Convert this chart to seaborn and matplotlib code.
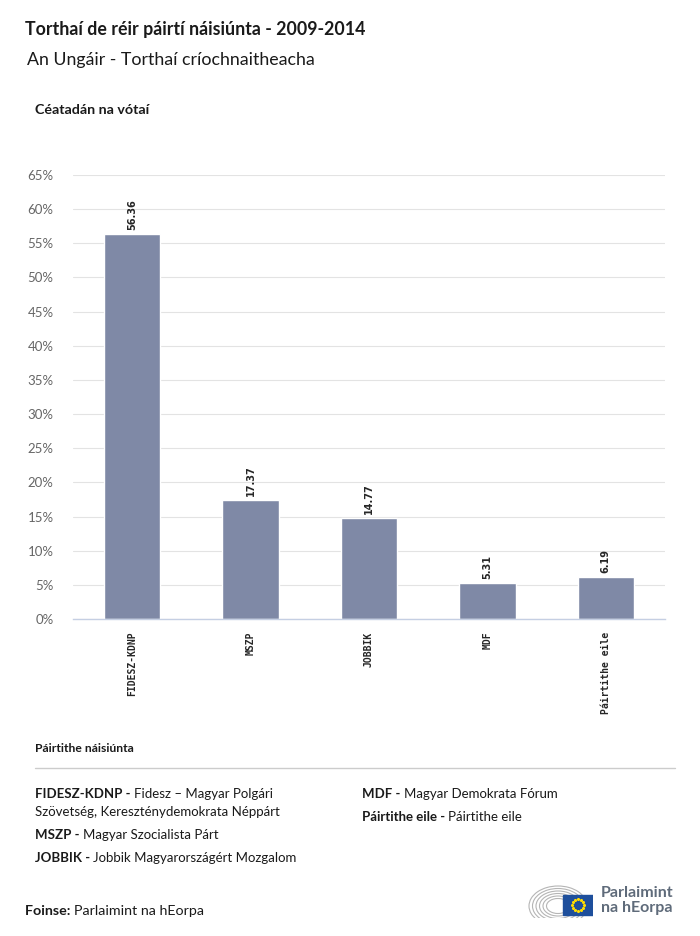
import matplotlib
matplotlib.use('Agg')
import matplotlib.pyplot as plt
import seaborn as sns
import pandas as pd
import numpy as np
from matplotlib.patches import Rectangle, Arc

# Data
parties = ['FIDESZ-KDNP', 'MSZP', 'JOBBIK', 'MDF', 'Páirtithe eile']
shares = [56.36, 17.37, 14.77, 5.31, 6.19]
y_ticks = [0, 5, 10, 15, 20, 25, 30, 35, 40, 45, 50, 55, 60, 65]

legend_left = [
    ('FIDESZ-KDNP - ', 'Fidesz – Magyar Polgári'),
    ('', 'Szövetség, Kereszténydemokrata Néppárt'),
    ('MSZP - ', 'Magyar Szocialista Párt'),
    ('JOBBIK - ', 'Jobbik Magyarországért Mozgalom'),
]
legend_right = [
    ('MDF - ', 'Magyar Demokrata Fórum'),
    ('Páirtithe eile - ', 'Páirtithe eile'),
]

sns.set_style('white')
plt.rcParams['font.family'] = ['Lato', 'DejaVu Sans']

W, H = 700, 936
fig = plt.figure(figsize=(W / 100, H / 100), dpi=100)

def fy(px):
    return 1 - px / H

def fx(px):
    return px / W

ax = fig.add_axes([fx(73), fy(619), fx(665) - fx(73), fy(175) - fy(619)])

df = pd.DataFrame({'party': parties, 'share': shares})
sns.barplot(data=df, x='party', y='share', color='#7f89a6', saturation=1,
            width=0.475, ax=ax)

ax.set_xlim(-0.5, 4.5)
ax.set_ylim(0, 65)
ax.set_yticks(y_ticks)
ax.set_yticklabels([f'{t}%' for t in y_ticks], color='#666666', fontsize=9.5)
ax.tick_params(axis='y', length=0, pad=14)
ax.tick_params(axis='x', length=0, pad=9)
ax.set_xticks(range(len(parties)))
ax.set_xticklabels(parties, rotation=90, family='DejaVu Sans Mono',
                   fontsize=7, fontweight='bold', va='top')
ax.set_xlabel('')
ax.set_ylabel('')
ax.grid(axis='y', color='#e3e3e3', linewidth=0.8)
ax.set_axisbelow(True)
for s in ['top', 'right', 'left']:
    ax.spines[s].set_visible(False)
ax.spines['bottom'].set_color('#c5cfe3')
ax.spines['bottom'].set_linewidth(1)

for i, v in enumerate(shares):
    ax.annotate(f'{v:.2f}', (i, v), xytext=(0, 3), textcoords='offset points',
                rotation=90, ha='center', va='bottom', fontsize=7,
                fontweight='bold', family='DejaVu Sans')

# Titles
fig.text(fx(25), fy(30), 'Torthaí de réir páirtí náisiúnta - 2009-2014',
         fontsize=12.8, fontweight='bold', va='center', color='#1a1a1a')
fig.text(fx(27), fy(60), 'An Ungáir - Torthaí críochnaitheacha',
         fontsize=12.8, va='center', color='#1a1a1a')
fig.text(fx(35), fy(110), 'Céatadán na vótaí', fontsize=10.3,
         fontweight='bold', va='center', color='#1a1a1a')

# Legend block
fig.text(fx(35), fy(748), 'Páirtithe náisiúnta', fontsize=8.7,
         fontweight='bold', va='center', color='#1a1a1a')
fig.add_artist(plt.Line2D([fx(35), fx(675)], [fy(768), fy(768)],
                          color='#cccccc', linewidth=1))

renderer = fig.canvas.get_renderer()

def mixed(x, y, bold, normal, size=9.5):
    t = fig.text(fx(x), fy(y), bold, fontsize=size, fontweight='bold',
                 va='center', color='#1a1a1a')
    w = t.get_window_extent(renderer).width if bold else 0
    fig.text(fx(x + w), fy(y), normal, fontsize=size, va='center',
             color='#1a1a1a')

for (b, n), y in zip(legend_left, [794, 812, 835, 858]):
    mixed(35, y, b, n)
for (b, n), y in zip(legend_right, [794, 817]):
    mixed(362, y, b, n)

mixed(25, 911, 'Foinse: ', 'Parlaimint na hEorpa', size=10.3)

# Logo
lax = fig.add_axes([fx(528), fy(918), fx(65), fy(876) - fy(918)])
lax.set_xlim(0, 65)
lax.set_ylim(0, 42)
lax.axis('off')
for r in range(6):
    lax.add_patch(Arc((30, 12), 58 - r * 7, 40 - r * 5, theta1=0, theta2=360,
                      color='#b5b5b5', linewidth=0.8))
lax.add_patch(Rectangle((35, 3), 30, 20, color='#1e4f9c'))
ang = np.linspace(0, 2 * np.pi, 13)[:-1]
lax.scatter(50 + 6 * np.cos(ang), 13 + 6 * np.sin(ang), s=1.5, color='#ffdd00')
fig.text(fx(601), fy(893), 'Parlaimint', fontsize=11.5, fontweight='bold',
         color='#5f6b7a', va='center')
fig.text(fx(601), fy(908), 'na hEorpa', fontsize=11.5, fontweight='bold',
         color='#5f6b7a', va='center')

fig.savefig('out.png', dpi=100, facecolor='white')
